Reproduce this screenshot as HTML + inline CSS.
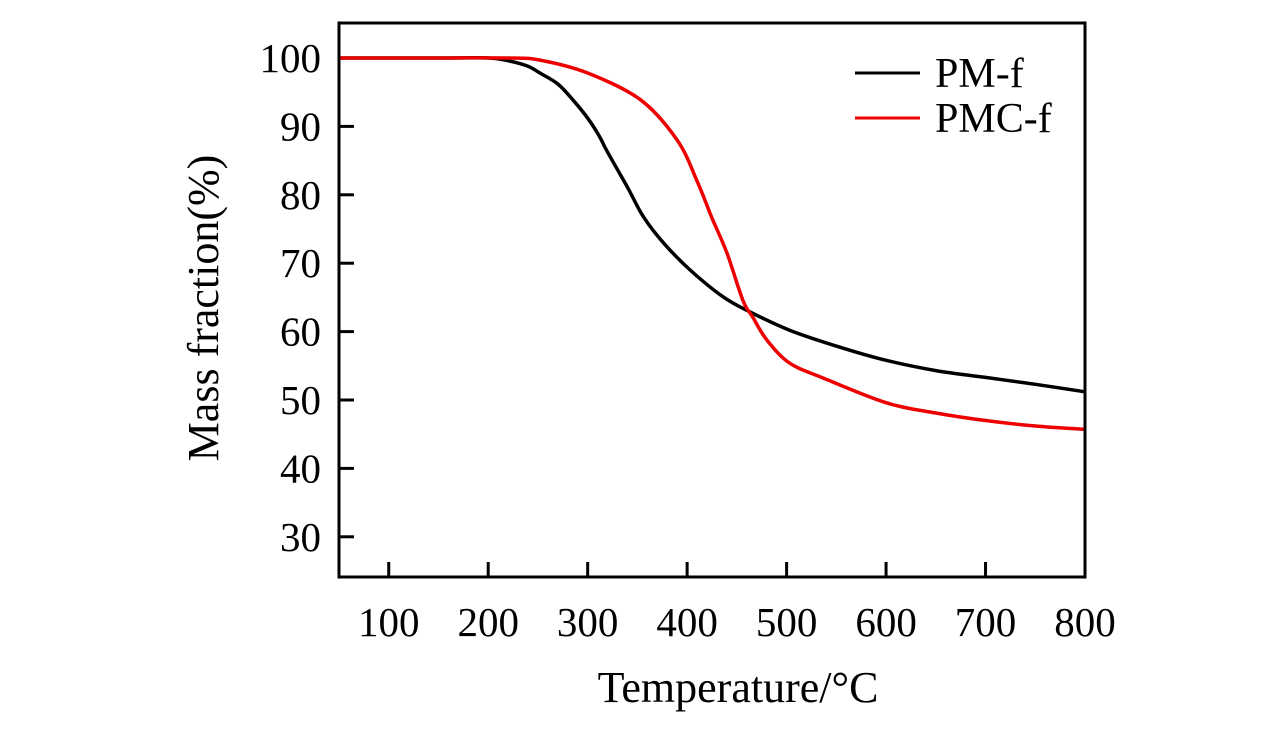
<!DOCTYPE html>
<html><head><meta charset="utf-8"><style>
body{margin:0;background:#fff}
text{font-family:"Liberation Serif",serif;fill:#000}
</style></head><body>
<svg width="1276" height="726" id="c">
<g id="g"></g>
</svg>
<script>
const tempsBlack=[50,150,200,220,240,252,270,285,300,312,319,340,356,376,403,436,463,503,554,600,650,700,750,800];
const massBlack=[100,100,100,99.6,98.8,97.8,96.2,93.9,91.2,88.5,86.5,81.1,76.8,73,69,65.1,62.9,60.2,57.7,55.8,54.3,53.3,52.3,51.2];
const tempsRed=[50,150,220,252,300,353,390,410,425,440,456,466,480,503,537,600,650,700,750,800];
const massRed=[100,100,100,99.7,97.8,93.9,88.0,82.0,76.6,71.5,64.6,62.1,58.8,55.4,53.2,49.6,48.1,47,46.2,45.7];
const xTicks=[100,200,300,400,500,600,700,800];
const yTicks=[30,40,50,60,70,80,90,100];
const L=339,R=1085,T=23,B=577;
const X=v=>L+(v-50)/750*(R-L);
const Y=v=>58+(100-v)*6.84;
const ns="http://www.w3.org/2000/svg",g=document.getElementById('g');
function mk(t,a){const e=document.createElementNS(ns,t);for(const k in a)e.setAttribute(k,a[k]);g.appendChild(e);return e;}
let e;
function line(ts,ms,c){
 const p=ts.map((t,i)=>[X(t),Y(ms[i])]);
 let d='M'+p[0][0].toFixed(1)+','+p[0][1].toFixed(1);
 for(let i=0;i<p.length-1;i++){
  const p0=p[Math.max(0,i-1)],p1=p[i],p2=p[i+1],p3=p[Math.min(p.length-1,i+2)];
  const c1=[p1[0]+(p2[0]-p0[0])/6,p1[1]+(p2[1]-p0[1])/6];
  const c2=[p2[0]-(p3[0]-p1[0])/6,p2[1]-(p3[1]-p1[1])/6];
  d+=' C'+c1.map(v=>v.toFixed(1)).join(',')+' '+c2.map(v=>v.toFixed(1)).join(',')+' '+p2.map(v=>v.toFixed(1)).join(',');
 }
 return mk('path',{d:d,fill:'none',stroke:c,'stroke-width':3.5});
}
e=line(tempsBlack,massBlack,'#000');


e=line(tempsRed,massRed,'#e00');


e=mk('rect',{x:L,y:T,width:R-L,height:B-T,fill:'none',stroke:'#000','stroke-width':3});


xTicks.forEach(v=>{
 e=mk('line',{x1:X(v),x2:X(v),y1:B,y2:B-15,stroke:'#000','stroke-width':3});
 
 
 e=mk('text',{x:X(v),y:636,'text-anchor':'middle','font-size':41});e.textContent=v;
 
 
});
yTicks.forEach(v=>{
 if(v<100){e=mk('line',{x1:L,x2:L+15,y1:Y(v),y2:Y(v),stroke:'#000','stroke-width':3});
 
 }
 e=mk('text',{x:321,y:Y(v)+14,'text-anchor':'end','font-size':41});e.textContent=v;
 
 
});
e=mk('text',{x:738,y:702,'text-anchor':'middle','font-size':44});e.textContent='Temperature/°C';


e=mk('text',{x:0,y:0,'text-anchor':'middle','font-size':44,transform:'translate(218,308) rotate(-90)'});e.textContent='Mass fraction(%)';


[['PM-f','#000',73],['PMC-f','#e00',118]].forEach(([n,c,y])=>{
 e=mk('line',{x1:855,x2:920,y1:y,y2:y,stroke:c,'stroke-width':3});
 
 
 e=mk('text',{x:935,y:y+14,'font-size':42});e.textContent=n;
 
 
});
</script>
</body></html>
